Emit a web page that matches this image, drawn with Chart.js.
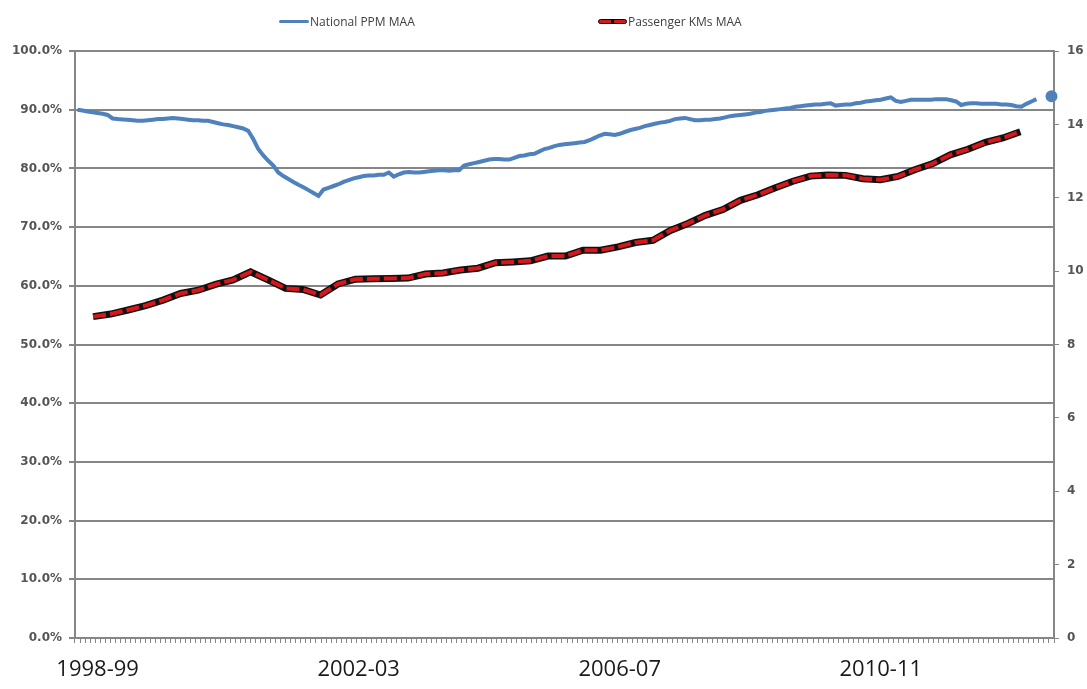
<!DOCTYPE html>
<html>
<head>
<meta charset="utf-8">
<script src="https://cdn.jsdelivr.net/npm/chart.js@4.4.1/dist/chart.umd.min.js"></script>
<style>
    body { margin: 0; background: #fff; }
    #wrap { position: relative; width: 1087px; height: 689px; }
    .legend-item { position: absolute; top: 13px; display: flex; align-items: center; font: 12px "Open Sans", sans-serif; color: #404040; }
    .sw-blue { width: 30px; height: 3px; background: #4f81bd; border-radius: 2px; margin-right: 1px; }
    .sw-red { position: relative; width: 27px; height: 3px; background: #d11a1a; border: 1.5px solid #000; border-radius: 3px; margin-right: 1px; }
    .sw-red span { position: absolute; left: 12px; top: -1px; width: 3px; height: 5px; background: #000; }
</style>
</head>
<body>
<div id="wrap">
    <div class="legend-item" style="left:279px"><div class="sw-blue"></div>National PPM MAA</div>
    <div class="legend-item" style="left:598px"><div class="sw-red"><span></span></div>Passenger KMs MAA</div>
    <canvas id="chart"></canvas>
</div>
<script>
// Rail periods (13 per year), starting 1997-98 P10
const periodLabels = [];
for (let i = 0; i < 195; i++) {
    const p = (9 + i) % 13 + 1;
    const y = 1997 + Math.floor((9 + i) / 13);
    periodLabels.push(y + '-' + String((y + 1) % 100).padStart(2, '0') + ' P' + String(p).padStart(2, '0'));
}
const xTickYears = ['1998-99', '2002-03', '2006-07', '2010-11'];

// National PPM moving annual average (%), one value per period
const ppmValues = [
    90.0, 89.85, 89.7, 89.55, 89.45, 89.3, 89.1, 88.5, 88.4, 88.35,
    88.3, 88.2, 88.1, 88.1, 88.2, 88.3, 88.4, 88.4, 88.5, 88.6,
    88.5, 88.4, 88.3, 88.2, 88.2, 88.1, 88.1, 87.9, 87.7, 87.5,
    87.4, 87.2, 87.0, 86.8, 86.4, 85.0, 83.3, 82.2, 81.3, 80.5,
    79.3, 78.7, 78.2, 77.7, 77.2, 76.8, 76.3, 75.8, 75.3, 76.4,
    76.7, 77.0, 77.3, 77.7, 78.0, 78.3, 78.5, 78.7, 78.8, 78.8,
    78.9, 78.9, 79.3, 78.6, 79.0, 79.3, 79.4, 79.3, 79.3, 79.4,
    79.5, 79.6, 79.7, 79.7, 79.6, 79.7, 79.7, 80.5, 80.7, 80.9,
    81.1, 81.3, 81.5, 81.6, 81.6, 81.5, 81.5, 81.8, 82.1, 82.2,
    82.4, 82.5, 82.9, 83.3, 83.5, 83.8, 84.0, 84.1, 84.2, 84.3,
    84.4, 84.5, 84.8, 85.2, 85.6, 85.9, 85.8, 85.7, 85.9, 86.2,
    86.5, 86.7, 86.9, 87.2, 87.4, 87.6, 87.8, 87.9, 88.1, 88.4,
    88.5, 88.6, 88.4, 88.2, 88.2, 88.3, 88.3, 88.4, 88.5, 88.7,
    88.9, 89.0, 89.1, 89.2, 89.3, 89.5, 89.6, 89.8, 89.9, 90.0,
    90.1, 90.2, 90.3, 90.5, 90.6, 90.7, 90.8, 90.9, 90.9, 91.0,
    91.1, 90.7, 90.8, 90.9, 90.9, 91.1, 91.2, 91.4, 91.5, 91.6,
    91.7, 91.9, 92.1, 91.5, 91.3, 91.5, 91.7, 91.7, 91.7, 91.7,
    91.7, 91.8, 91.8, 91.8, 91.6, 91.4, 90.8, 91.0, 91.1, 91.1,
    91.0, 91.0, 91.0, 91.0, 90.9, 90.9, 90.8, 90.6, 90.5, 91.0,
    91.4, 91.8, null, null, 92.3
];

// Passenger km moving annual average (right axis), evenly spaced readings
const kmsValues = [
    8.76, 8.83, 8.94, 9.06, 9.21, 9.39, 9.48, 9.64, 9.76, 9.98,
    9.76, 9.53, 9.50, 9.35, 9.65, 9.78, 9.79, 9.80, 9.81, 9.92,
    9.95, 10.03, 10.08, 10.23, 10.25, 10.28, 10.41, 10.41, 10.57, 10.57,
    10.66, 10.78, 10.84, 11.11, 11.30, 11.52, 11.68, 11.93, 12.08, 12.27,
    12.45, 12.59, 12.62, 12.61, 12.52, 12.49, 12.58, 12.77, 12.93, 13.17,
    13.32, 13.51, 13.63, 13.80
];
const kmsFirstPeriod = 3.1;
const kmsLastPeriod = 187.8;

const kmsPoints = kmsValues.map((v, k) => ({
    x: kmsFirstPeriod + k * (kmsLastPeriod - kmsFirstPeriod) / (kmsValues.length - 1),
    y: v
}));

const axisGrey = '#868686';
const lastIndex = ppmValues.length - 1;

new Chart(document.getElementById('chart'), {
    type: 'line',
    data: {
        labels: periodLabels,
        datasets: [
            {
                label: 'National PPM MAA',
                data: ppmValues,
                borderColor: '#4f81bd',
                backgroundColor: '#4f81bd',
                borderWidth: 4,
                pointRadius: ctx => ctx.dataIndex === lastIndex ? 4 : 0,
                tension: 0,
                yAxisID: 'y',
                xAxisID: 'x',
                order: 0
            },
            {
                label: 'Passenger KMs MAA',
                data: kmsPoints,
                borderColor: '#d8161b',
                borderWidth: 4,
                borderDash: [13, 4],
                pointRadius: 0,
                tension: 0,
                yAxisID: 'y2',
                xAxisID: 'xk',
                order: 1
            },
            {
                label: 'kms outline',
                data: kmsPoints,
                borderColor: '#111',
                borderWidth: 7,
                pointRadius: 0,
                tension: 0,
                yAxisID: 'y2',
                xAxisID: 'xk',
                order: 2
            }
        ]
    },
    options: {
        responsive: true,
        maintainAspectRatio: false,
        animation: false,
        layout: { padding: { top: 51, left: 0, right: 0, bottom: 0 } },
        plugins: {
            legend: { display: false },
            tooltip: { enabled: false }
        },
        scales: {
            x: {
                type: 'category',
                offset: true,
                grid: { offset: true, drawOnChartArea: false, tickLength: 5, color: axisGrey },
                border: { color: axisGrey, width: 2 },
                ticks: {
                    autoSkip: false,
                    maxRotation: 0,
                    minRotation: 0,
                    padding: 14,
                    color: '#1a1a1a',
                    font: { family: 'Open Sans', size: 22 },
                    callback: function (v, i) {
                        const lab = periodLabels[i];
                        const yr = lab.slice(0, 7);
                        return lab.endsWith('P01') && xTickYears.includes(yr) ? yr : '';
                    }
                },
                afterFit: s => { s.height = 51; }
            },
            xk: {
                type: 'linear',
                display: false,
                min: -0.5,
                max: periodLabels.length - 0.5
            },
            y: {
                position: 'left',
                min: 0,
                max: 100,
                ticks: {
                    stepSize: 10,
                    padding: 7,
                    color: '#555',
                    font: { family: 'DejaVu Sans', size: 12, weight: 'bold' },
                    callback: v => v.toFixed(1) + '%'
                },
                grid: { color: axisGrey, lineWidth: 2, tickLength: 6 },
                border: { color: axisGrey, width: 2 },
                afterFit: s => { s.width = 75; }
            },
            y2: {
                position: 'right',
                min: 0,
                max: 16,
                ticks: {
                    stepSize: 2,
                    padding: 8,
                    color: '#555',
                    font: { family: 'DejaVu Sans', size: 12, weight: 'bold' }
                },
                grid: { drawOnChartArea: false, color: axisGrey, tickLength: 5 },
                border: { color: axisGrey, width: 2 },
                afterFit: s => { s.width = 33; }
            }
        }
    }
});
</script>
</body>
</html>
